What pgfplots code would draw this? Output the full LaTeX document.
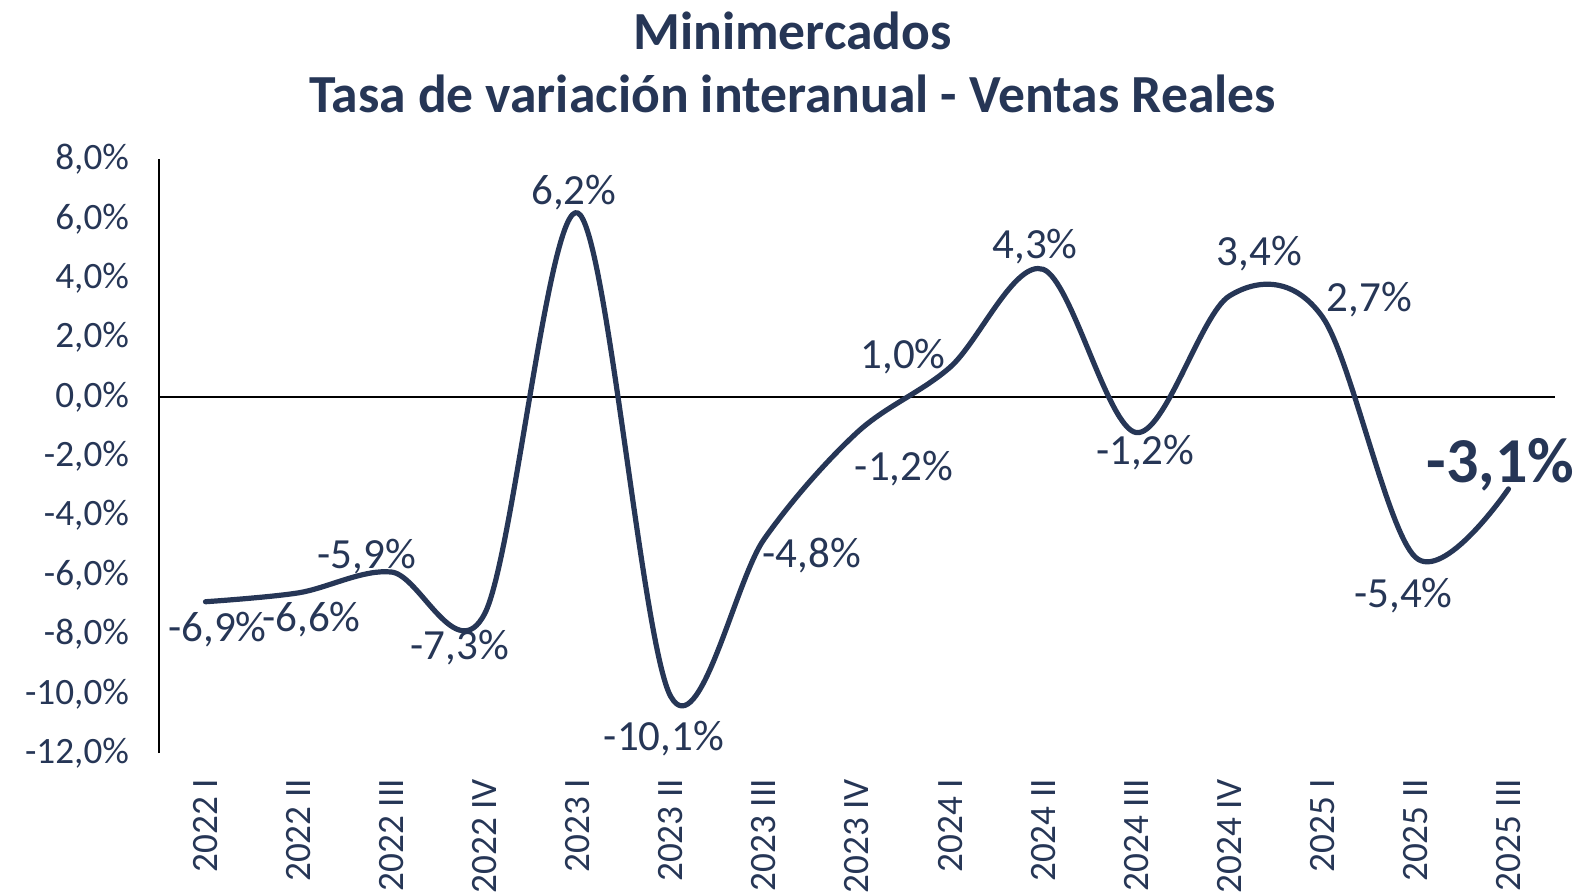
\documentclass[border=0pt]{standalone}
\usepackage{pgfplots}
\pgfplotsset{compat=1.18}
\usepackage{pgfplotstable}
\usepackage{fontspec}
\setmainfont{Carlito}
\definecolor{navy}{RGB}{38,54,86}

\pgfplotstableread{
x y lab dx dy
0 -6.9 -6,9\% 6 -14
1 -6.6 -6,6\% 6.5 -13.5
2 -5.9 -5,9\% -12.5 7.5
3 -7.3 -7,3\% -12.5 -17
4 6.2 6,2\% -2 10
5 -10.1 -10,1\% -3.5 -21
6 -4.8 -4,8\% 24 -8
7 -1.2 -1,2\% 23.5 -18
8 1.0 1,0\% -23.5 5.5
9 4.3 4,3\% -4 11.5
10 -1.2 -1,2\% 4.5 -10
11 3.4 3,4\% 15 21
12 2.7 2,7\% 23.5 8.5
13 -5.4 -5,4\% -6 -19
14 -3.1 -3,1\% -4 12
}\data

\pgfplotstableread{
x y lab
14 -3.1 -3,1\%
}\lastpt

\begin{document}
\begin{tikzpicture}
\begin{axis}[
  name=ax, scale only axis, width=698pt, height=296.8pt,
  xmin=-0.5, xmax=14.5, ymin=-12, ymax=8,
  axis y line*=left, axis x line*=bottom,
  x axis line style={draw=none},
  y axis line style={black, line width=0.75pt},
  major tick length=0pt,
  xtick={0,...,14},
  xticklabels={2022 I,2022 II,2022 III,2022 IV,2023 I,2023 II,2023 III,2023 IV,2024 I,2024 II,2024 III,2024 IV,2025 I,2025 II,2025 III},
  ytick={-12,-10,-8,-6,-4,-2,0,2,4,6,8},
  yticklabels={{-12,0\%},{-10,0\%},{-8,0\%},{-6,0\%},{-4,0\%},{-2,0\%},{0,0\%},{2,0\%},{4,0\%},{6,0\%},{8,0\%}},
  tick label style={text=navy, font=\fontsize{18.6}{22}\selectfont},
  xticklabel style={yshift=-9.5pt, rotate=90, anchor=east},
  yticklabel style={xshift=-11.5pt},
  title={Minimercados\\Tasa de variación interanual - Ventas Reales},
  title style={align=center, text=navy, font=\bfseries\fontsize{26.8}{31.5}\selectfont,
    at={(0.5,1)}, anchor=center, yshift=42.4pt, xshift=-32.25pt},
  clip=false,
]
\addplot[black, line width=0.75pt, forget plot] coordinates {(-0.5,0) (14.5,0)};
\addplot[navy, line width=2.6pt, smooth, tension=0.55, line cap=round, line join=round, mark=none]
  table[x=x, y=y] {\data};
\addplot[draw=none, mark=none, nodes near coords, point meta=explicit symbolic,
  skip coords between index={14}{15},
  visualization depends on={\thisrow{dx} \as \dx},
  visualization depends on={\thisrow{dy} \as \dy},
  every node near coord/.append style={anchor=center, text=navy,
    font=\fontsize{21.5}{24}\selectfont, xshift=\dx*1pt, yshift=\dy*1pt}]
  table[x=x, y=y, meta=lab] {\data};
\addplot[draw=none, mark=none, nodes near coords, point meta=explicit symbolic,
  every node near coord/.append style={anchor=center, text=navy,
    font=\bfseries\fontsize{32}{36}\selectfont, xshift=-4pt, yshift=12pt}]
  table[x=x, y=y, meta=lab] {\lastpt};
\end{axis}
\pgfresetboundingbox
\path ([shift={(-79.5pt,-71pt)}]ax.south west) rectangle ([shift={(14pt,79.75pt)}]ax.north east);
\end{tikzpicture}
\end{document}
